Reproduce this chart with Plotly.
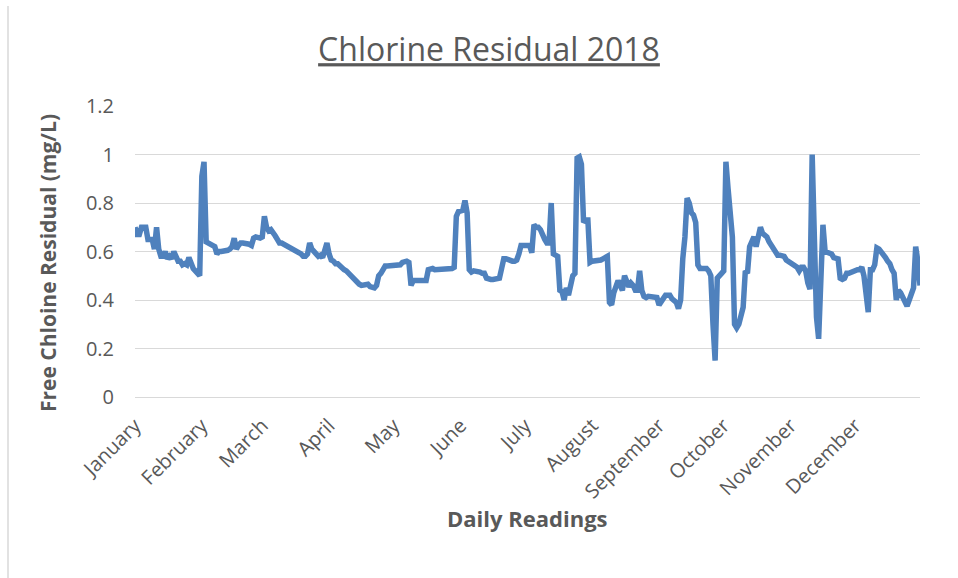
import plotly.graph_objects as go

months = ["January", "February", "March", "April", "May", "June", "July",
          "August", "September", "October", "November", "December"]
month_start_day = [0, 31, 59, 90, 120, 151, 181, 212, 243, 273, 304, 334]

jan = [0.70, 0.67, 0.67, 0.70, 0.70, 0.70, 0.65, 0.65, 0.65, 0.61, 0.70, 0.61, 0.58, 0.58, 0.60, 0.57,
       0.58, 0.57, 0.60, 0.58, 0.56, 0.56, 0.545, 0.55, 0.545, 0.575, 0.55, 0.53, 0.52, 0.51, 0.50]
feb = [0.91, 0.97, 0.64, 0.635, 0.635, 0.63, 0.62, 0.59, 0.60, 0.60, 0.60, 0.60, 0.605, 0.61,
       0.62, 0.655, 0.61, 0.625, 0.635, 0.635, 0.635, 0.635, 0.63, 0.625, 0.655, 0.66, 0.655, 0.655]
mar = [0.66, 0.745, 0.70, 0.685, 0.69, 0.68, 0.665, 0.65, 0.635, 0.635, 0.63, 0.63, 0.625, 0.615,
       0.61, 0.61, 0.605, 0.60, 0.59, 0.58, 0.58, 0.59, 0.635, 0.61, 0.595, 0.59, 0.58, 0.585,
       0.575, 0.60, 0.635]
apr = [0.59, 0.565, 0.56, 0.55, 0.55, 0.54, 0.53, 0.525, 0.52, 0.51, 0.50, 0.495, 0.48, 0.47,
       0.465, 0.46, 0.46, 0.46, 0.465, 0.455, 0.455, 0.45, 0.46, 0.50, 0.51, 0.53, 0.54, 0.54,
       0.54, 0.54]
may = [0.54, 0.54, 0.545, 0.545, 0.555, 0.56, 0.56, 0.555, 0.46, 0.48, 0.48, 0.48, 0.48, 0.48,
       0.48, 0.48, 0.525, 0.53, 0.53, 0.525, 0.525, 0.525, 0.53, 0.53, 0.53, 0.53, 0.53, 0.53,
       0.535, 0.745, 0.765]
jun = [0.77, 0.77, 0.81, 0.76, 0.525, 0.515, 0.52, 0.52, 0.515, 0.515, 0.51, 0.51, 0.49, 0.485,
       0.485, 0.485, 0.485, 0.485, 0.49, 0.53, 0.57, 0.57, 0.565, 0.56, 0.56, 0.56, 0.565, 0.59,
       0.625, 0.625]
jul = [0.625, 0.625, 0.625, 0.595, 0.71, 0.70, 0.70, 0.69, 0.665, 0.65, 0.635, 0.635, 0.80, 0.59,
       0.585, 0.58, 0.44, 0.435, 0.40, 0.45, 0.42, 0.455, 0.50, 0.51, 0.985, 0.99, 0.96, 0.72,
       0.73, 0.73, 0.555]
aug = [0.56, 0.56, 0.56, 0.565, 0.565, 0.57, 0.575, 0.58, 0.39, 0.38, 0.43, 0.46, 0.48, 0.46,
       0.44, 0.50, 0.47, 0.455, 0.47, 0.46, 0.44, 0.44, 0.52, 0.44, 0.415, 0.41, 0.415, 0.415,
       0.415, 0.415, 0.41]
sep = [0.38, 0.395, 0.40, 0.42, 0.42, 0.42, 0.405, 0.40, 0.39, 0.365, 0.40, 0.57, 0.66, 0.82,
       0.80, 0.76, 0.75, 0.72, 0.545, 0.53, 0.53, 0.53, 0.53, 0.52, 0.50, 0.30, 0.15, 0.49,
       0.505, 0.51]
oct_ = [0.52, 0.97, 0.86, 0.78, 0.66, 0.30, 0.285, 0.30, 0.33, 0.37, 0.52, 0.51, 0.62, 0.645,
        0.66, 0.62, 0.66, 0.70, 0.675, 0.67, 0.66, 0.64, 0.625, 0.615, 0.60, 0.585, 0.585,
        0.585, 0.58, 0.565, 0.56]
nov = [0.555, 0.545, 0.54, 0.535, 0.52, 0.535, 0.535, 0.52, 0.47, 0.445, 1.0, 0.62, 0.33, 0.24,
       0.55, 0.71, 0.60, 0.595, 0.595, 0.59, 0.575, 0.57, 0.57, 0.49, 0.485, 0.49, 0.51, 0.51,
       0.515, 0.52]
dec = [0.52, 0.525, 0.525, 0.535, 0.50, 0.42, 0.35, 0.525, 0.525, 0.545, 0.615, 0.61, 0.60, 0.59,
       0.575, 0.56, 0.55, 0.525, 0.51, 0.40, 0.44, 0.43, 0.41, 0.385, 0.375, 0.40, 0.425, 0.45,
       0.62, 0.56, 0.46]

values = jan + feb + mar + apr + may + jun + jul + aug + sep + oct_ + nov + dec
days = list(range(len(values)))

y_ticks = [0, 0.2, 0.4, 0.6, 0.8, 1.0, 1.2]
y_labels = ["0", "0.2", "0.4", "0.6", "0.8", "1", "1.2"]

W, H = 958, 578
L, R, T, B = 135, 38, 106, 181
pw, ph = W - L - R, H - T - B

def px_to_paper(px, py):
    return (px - L) / pw, (H - B - py) / ph

fig = go.Figure()
fig.add_trace(go.Scatter(x=days, y=values, mode="lines",
                         line=dict(color="#4F81BD", width=5.5),
                         hoverinfo="skip", showlegend=False))

grey = "#595959"
fig.update_layout(
    width=W, height=H,
    margin=dict(l=L, r=R, t=T, b=B),
    paper_bgcolor="white", plot_bgcolor="white",
    font=dict(family="Open Sans", color=grey, size=20),
    title=dict(text="<u>Chlorine Residual 2018</u>", x=489 / W, xanchor="center",
               y=1 - 50 / H, yanchor="middle", xref="container", yref="container",
               font=dict(family="Open Sans", size=32, color=grey)),
    xaxis=dict(range=[0, len(values) - 1], tickvals=month_start_day, ticktext=months,
               tickangle=-45, showgrid=False, zeroline=False, showline=False,
               ticks="", ticklabelstandoff=12, tickfont=dict(size=20, color=grey)),
    yaxis=dict(range=[0, 1.2], tickvals=y_ticks, ticktext=y_labels,
               showgrid=True, gridcolor="#D9D9D9", gridwidth=1.3,
               zeroline=True, zerolinecolor="#D9D9D9", zerolinewidth=1.3,
               showline=False, ticks="", ticklabelstandoff=20,
               tickfont=dict(size=20, color=grey)),
)

ax, ay = px_to_paper(32, 263)
fig.add_annotation(text="<b>Free Chloine Residual (mg/L)</b>", x=ax, y=ay,
                   xref="paper", yref="paper", textangle=-90, showarrow=False,
                   font=dict(family="Open Sans", size=21, color=grey))
bx, by = px_to_paper(527, 535)
fig.add_annotation(text="<b>Daily Readings</b>", x=bx, y=by,
                   xref="paper", yref="paper", showarrow=False,
                   font=dict(family="Open Sans", size=22, color=grey))

lx0, _ = px_to_paper(8, 0)
fig.add_shape(type="line", xref="paper", yref="paper", x0=lx0, x1=lx0,
              y0=px_to_paper(0, H + 5)[1], y1=px_to_paper(0, 6)[1],
              line=dict(color="#D9D9D9", width=1.5))

fig.write_html("out.html")
